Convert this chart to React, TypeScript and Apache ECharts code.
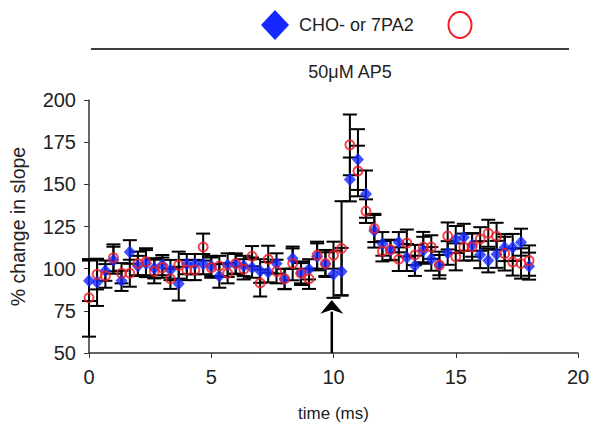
import React, { useEffect, useRef } from "react";
import * as echarts from "echarts";

const times = [
  0, 0.33, 0.67, 1, 1.33, 1.67, 2, 2.33, 2.67, 3, 3.33, 3.67, 4, 4.33, 4.67, 5, 5.33, 5.67, 6,
  6.33, 6.67, 7, 7.33, 7.67, 8, 8.33, 8.67, 9, 9.33, 9.67, 10, 10.33, 10.67, 11, 11.33, 11.67,
  12, 12.33, 12.67, 13, 13.33, 13.67, 14, 14.33, 14.67, 15, 15.33, 15.67, 16, 16.33, 16.67, 17,
  17.33, 17.67, 18,
];

const blueValues = [
  92.8, 91.9, 98.8, 105, 92.8, 109.9, 101.6, 103, 100.2, 102.1, 99.2, 91.1, 102.7, 102.7, 102.7,
  101.6, 95.7, 102.1, 102.7, 101.6, 100.6, 98.6, 97.9, 103.1, 93.8, 106, 97.3, 99.6, 107, 102.7,
  96.7, 98.3, 152.9, 164.7, 144.2, 122.5, 114.7, 110.9, 115.7, 106.6, 101.7, 110.9, 105.8, 102.1,
  109.3, 117.3, 118.6, 114.1, 108.3, 104.8, 108.5, 112.5, 112.6, 115.7, 101.5,
];
const blueErrors = [
  12, 14, 6, 8, 6, 7, 6, 8, 6, 6, 6, 10, 6, 6, 6, 6, 7, 7, 6, 6, 6, 7, 6, 6, 6, 6, 7, 6, 8, 7,
  14, 14, 13, 18, 14, 10, 7, 6, 6, 8, 6, 8, 7, 8, 7, 8, 8, 7, 8, 7, 8, 8, 8, 8, 8,
];

const redValues = [
  82.7, 96.7, 95.7, 106.4, 97.3, 97.3, 103.1, 104.1, 98.3, 100.6, 94, 102.1, 99.2, 99.2, 112.8,
  100.6, 101.6, 97.3, 103.1, 99.6, 107.4, 91.5, 105.6, 98.3, 94, 103.1, 97.3, 94, 108, 103.1, 108,
  112, 173.4, 157.9, 134.1, 123.8, 110.3, 111.2, 105.6, 115.2, 108.1, 112.8, 112.8, 102.1, 119.4,
  107, 112.8, 112.8, 117.6, 121, 119.2, 108.9, 103.9, 103.1, 104.8,
];
const redErrors = [
  23, 9, 7, 8, 6, 8, 7, 8, 7, 6, 6, 8, 6, 6, 8, 6, 6, 6, 6, 6, 6, 8, 8, 7, 6, 10, 6, 6, 8, 8, 8,
  28, 18, 15, 7, 8, 6, 6, 7, 8, 6, 9, 7, 6, 8, 8, 8, 8, 7, 8, 8, 10, 8, 9, 9,
];

const yTicks = [50, 75, 100, 125, 150, 175, 200];
const xTicks = [0, 5, 10, 15, 20];

// arrow marking application time: [time, bottom, tip, head base]
const arrowData = [[9.93, 50, 81.4, 73.3]];

const legendLabel = "CHO- or 7PA2";
const drugLabel = "50\u03bcM AP5";
const yAxisName = "% change in slope";
const xAxisName = "time (ms)";

const FONT = "Liberation Sans, Arial, Helvetica, sans-serif";
const BLUE = "#1428ff";
const RED = "#f01c24";

function errorBarItem(params: any, api: any) {
  const x = api.value(0);
  const y = api.value(1);
  const e = api.value(2);
  const top = api.coord([x, y + e]);
  const bot = api.coord([x, y - e]);
  const half = 7;
  const style = { stroke: "#000", lineWidth: 2 };
  return {
    type: "group",
    children: [
      { type: "line", shape: { x1: top[0], y1: top[1], x2: bot[0], y2: bot[1] }, style },
      { type: "line", shape: { x1: top[0] - half, y1: top[1], x2: top[0] + half, y2: top[1] }, style },
      { type: "line", shape: { x1: bot[0] - half, y1: bot[1], x2: bot[0] + half, y2: bot[1] }, style },
    ],
  };
}

function arrowItem(params: any, api: any) {
  const x = api.value(0);
  const b = api.coord([x, api.value(1)]);
  const t = api.coord([x, api.value(2)]);
  const h = api.coord([x, api.value(3)]);
  return {
    type: "group",
    children: [
      {
        type: "line",
        shape: { x1: b[0], y1: b[1], x2: h[0], y2: h[1] - 2 },
        style: { stroke: "#000", lineWidth: 2.5 },
      },
      {
        type: "polygon",
        shape: {
          points: [
            [t[0], t[1]],
            [h[0] + 11.5, h[1]],
            [h[0], h[1] - 4],
            [h[0] - 11.5, h[1]],
          ],
        },
        style: { fill: "#000" },
      },
    ],
  };
}

export default function App() {
  const ref = useRef<HTMLDivElement>(null);
  useEffect(() => {
    if (!ref.current) return;
    const chart = echarts.init(ref.current, null, { renderer: "svg" });
    const blueBars = times.map((t, i) => [t, blueValues[i], blueErrors[i]]);
    const redBars = times.map((t, i) => [t, redValues[i], redErrors[i]]);
    chart.setOption({
      animation: false,
      backgroundColor: "#fff",
      grid: { left: 89, right: 16, top: 100, bottom: 69 },
      xAxis: {
        type: "value",
        min: xTicks[0],
        max: xTicks[xTicks.length - 1],
        interval: 5,
        name: xAxisName,
        nameLocation: "middle",
        nameGap: 52,
        nameTextStyle: { fontFamily: FONT, fontSize: 17, color: "#222" },
        axisLine: { lineStyle: { color: "#333", width: 1.5 } },
        axisTick: { show: true, inside: false, length: 5, lineStyle: { color: "#333" } },
        axisLabel: { fontFamily: FONT, fontSize: 20, color: "#222", margin: 14 },
        splitLine: { show: false },
      },
      yAxis: {
        type: "value",
        min: yTicks[0],
        max: yTicks[yTicks.length - 1],
        interval: 25,
        name: yAxisName,
        nameLocation: "middle",
        nameGap: 61,
        nameRotate: 90,
        nameTextStyle: { fontFamily: FONT, fontSize: 19.5, color: "#222" },
        axisLine: { show: true, lineStyle: { color: "#333", width: 1.5 } },
        axisTick: { show: true, inside: false, length: 5, lineStyle: { color: "#333" } },
        axisLabel: { fontFamily: FONT, fontSize: 20, color: "#222", margin: 13 },
        splitLine: { show: false },
      },
      graphic: [
        {
          type: "polygon",
          shape: { points: [[275, 10], [289, 25], [275, 40], [261, 25]] },
          style: { fill: BLUE },
        },
        {
          type: "text",
          x: 299,
          y: 25,
          style: {
            text: legendLabel,
            fontFamily: FONT,
            fontSize: 18,
            fill: "#222",
            verticalAlign: "middle",
            textAlign: "left",
          },
        },
        {
          type: "ellipse",
          shape: { cx: 460, cy: 25, rx: 11.5, ry: 13 },
          style: { fill: "none", stroke: RED, lineWidth: 2 },
        },
        {
          type: "line",
          shape: { x1: 91, y1: 49, x2: 569, y2: 49 },
          style: { stroke: "#000", lineWidth: 1.5 },
        },
        {
          type: "text",
          x: 350,
          y: 72,
          style: {
            text: drugLabel,
            fontFamily: FONT,
            fontSize: 18,
            fill: "#222",
            verticalAlign: "middle",
            textAlign: "center",
          },
        },
      ],
      series: [
        {
          type: "custom",
          renderItem: errorBarItem,
          data: blueBars,
          z: 1,
          silent: true,
        },
        {
          type: "custom",
          renderItem: errorBarItem,
          data: redBars,
          z: 1,
          silent: true,
        },
        {
          type: "scatter",
          data: times.map((t, i) => [t, blueValues[i]]),
          symbol: "diamond",
          symbolSize: [12, 13],
          itemStyle: { color: BLUE },
          z: 3,
        },
        {
          type: "scatter",
          data: times.map((t, i) => [t, redValues[i]]),
          symbol: "circle",
          symbolSize: 9,
          itemStyle: { color: "transparent", borderColor: RED, borderWidth: 2 },
          z: 4,
        },
        {
          type: "custom",
          renderItem: arrowItem,
          data: arrowData,
          z: 5,
          silent: true,
        },
      ],
    });
    return () => chart.dispose();
  }, []);
  return (
    <div
      ref={ref}
      style={{ position: "fixed", left: 0, top: 0, width: 594, height: 427, background: "#fff" }}
    />
  );
}
